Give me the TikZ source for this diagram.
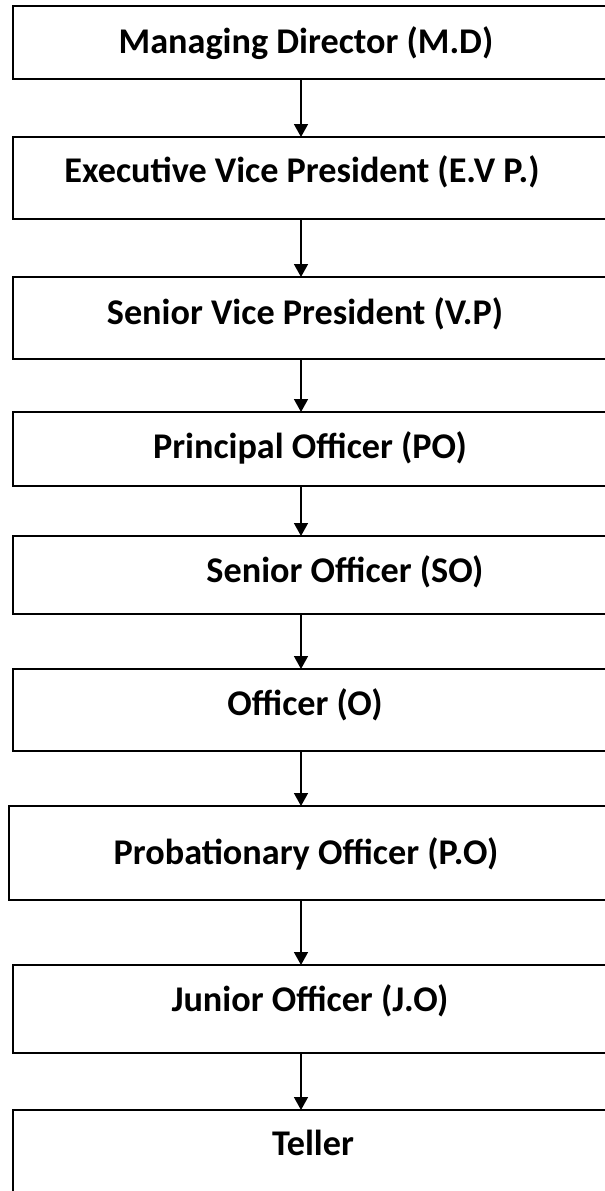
\documentclass[tikz,border=0pt]{standalone}
\usepackage{fontspec}
\setmainfont{Carlito}
\usetikzlibrary{arrows.meta}
\begin{document}
\begin{tikzpicture}[x=0.5pt,y=-0.5pt,
  box/.style={draw=black, line width=1pt, rectangle, anchor=north west,
    inner sep=0pt, outer sep=0pt, minimum width=299.5pt},
  lbl/.style={font=\bfseries\fontsize{18.1pt}{20pt}\selectfont, anchor=base, inner sep=0pt},
  arr/.style={line width=0.75pt, -{Triangle[width=7pt,length=6.5pt]}}]
\useasboundingbox (0,0) rectangle (605,1191);
\coordinate (ax) at (301,0);
% boxes
\node[box, minimum height=36.5pt] (b1) at (13,6) {};
\node[box, minimum height=41pt] (b2) at (13,137) {};
\node[box, minimum height=41pt] (b3) at (13,277) {};
\node[box, minimum height=37pt] (b4) at (13,412) {};
\node[box, minimum height=39pt] (b5) at (13,536) {};
\node[box, minimum height=41pt] (b6) at (13,669) {};
\node[box, minimum height=47pt, minimum width=300.5pt] (b7) at (9,806) {};
\node[box, minimum height=44pt] (b8) at (13,965) {};
\node[box, minimum height=70pt] (b9) at (13,1110) {};
% labels
\node[lbl] (t1) at (306,53) {Managing Director (M.D)};
\node[lbl] (t2) at (302,182) {Executive Vice President (E.V P.)};
\node[lbl] (t3) at (305,324) {Senior Vice President (V.P)};
\node[lbl] (t4) at (310,458) {Principal Officer (PO)};
\node[lbl] (t5) at (345,582) {Senior Officer (SO)};
\node[lbl] (t6) at (305,715) {Officer (O)};
\node[lbl] (t7) at (306,864) {Probationary Officer (P.O)};
\node[lbl] (t8) at (310,1011) {Junior Officer (J.O)};
\node[lbl] (t9) at (313,1155) {Teller};
% arrows
\draw[arr] (b1.south -| ax) -- (b2.north -| ax);
\draw[arr] (b2.south -| ax) -- (b3.north -| ax);
\draw[arr] (b3.south -| ax) -- (b4.north -| ax);
\draw[arr] (b4.south -| ax) -- (b5.north -| ax);
\draw[arr] (b5.south -| ax) -- (b6.north -| ax);
\draw[arr] (b6.south -| ax) -- (b7.north -| ax);
\draw[arr] (b7.south -| ax) -- (b8.north -| ax);
\draw[arr] (b8.south -| ax) -- (b9.north -| ax);
\end{tikzpicture}
\end{document}
